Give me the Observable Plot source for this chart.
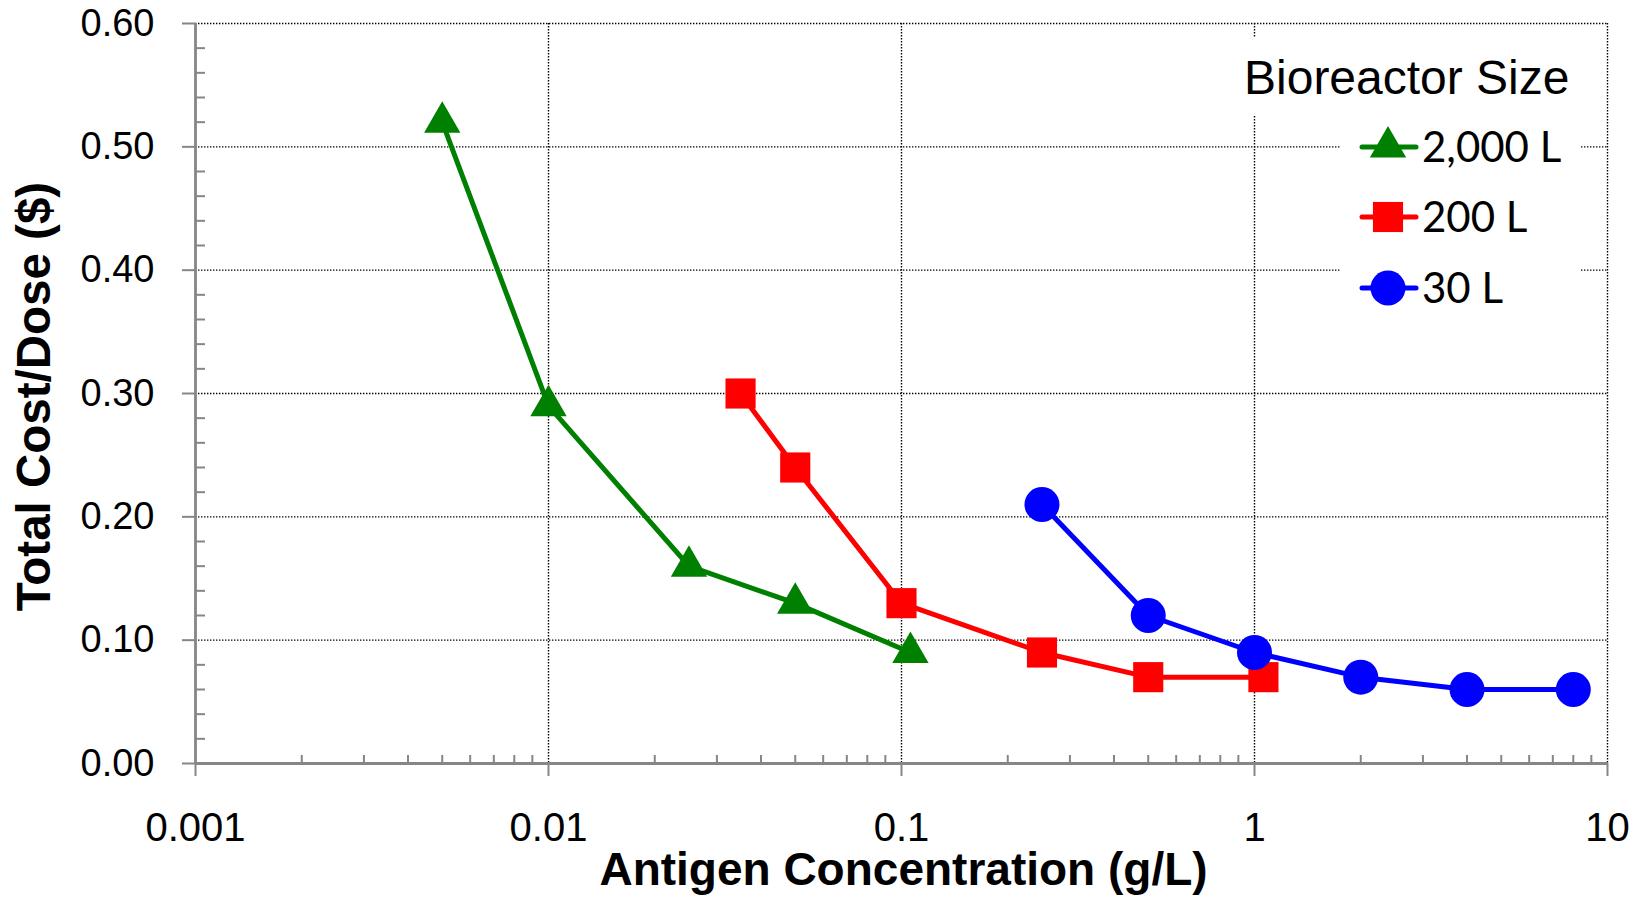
<!DOCTYPE html>
<html>
<head>
<meta charset="utf-8">
<script src="https://cdn.jsdelivr.net/npm/d3@7"></script>
<script src="https://cdn.jsdelivr.net/npm/@observablehq/plot@0.6"></script>
<style>
  html, body { margin: 0; padding: 0; background: #fff; }
  #wrap { position: relative; width: 1642px; height: 897px; overflow: hidden; background: #fff; }
  #wrap svg.legend { position: absolute; left: 0; top: 0; }
</style>
</head>
<body>
<div id="wrap"></div>
<script>
// ---- Data ----
const seriesNames = ["2,000 L", "200 L", "30 L"];
const seriesColors = ["#008000", "#ff0000", "#0000ff"];
const seriesSymbols = ["triangle", "square", "circle"];

const conc2000 = [0.005, 0.01, 0.025, 0.05, 0.106];
const cost2000 = [0.52, 0.29, 0.16, 0.13, 0.09];

const conc200 = [0.035, 0.05, 0.1, 0.25, 0.5, 1.06];
const cost200 = [0.30, 0.24, 0.13, 0.09, 0.07, 0.07];

const conc30 = [0.25, 0.5, 1, 2, 4, 8];
const cost30 = [0.21, 0.12, 0.09, 0.07, 0.06, 0.06];

const xTicks = [0.001, 0.01, 0.1, 1, 10];
const xTickLabels = ["0.001", "0.01", "0.1", "1", "10"];
const yTicks = [0, 0.1, 0.2, 0.3, 0.4, 0.5, 0.6];
const yTickLabels = ["0.00", "0.10", "0.20", "0.30", "0.40", "0.50", "0.60"];
const xMinorMultiples = [2, 3, 4, 5, 6, 7, 8, 9];
const yMinorTicks = [0.02, 0.04, 0.06, 0.08, 0.12, 0.14, 0.16, 0.18, 0.22, 0.24, 0.26, 0.28,
                     0.32, 0.34, 0.36, 0.38, 0.42, 0.44, 0.46, 0.48, 0.52, 0.54, 0.56, 0.58];

const xTitle = "Antigen Concentration (g/L)";
const yTitle = "Total Cost/Dose ($)";
const legendTitle = "Bioreactor Size";

// ---- Build table ----
const allConc = [conc2000, conc200, conc30];
const allCost = [cost2000, cost200, cost30];
const rows = [];
seriesNames.forEach((name, s) => {
  allConc[s].forEach((c, i) => rows.push({series: name, conc: c, cost: allCost[s][i]}));
});
const xMinorTicks = xTicks.slice(0, -1).flatMap(d => xMinorMultiples.map(m => d * m));

// ---- Layout ----
const W = 1642, H = 897;
const mL = 195, mR = 35, mT = 23, mB = 134;
const frameW = W - mL - mR, frameH = H - mT - mB;
const axisGray = "#868686";
const font = "'Liberation Sans', Arial, sans-serif";

const marks = [
  // dotted gridlines
  Plot.ruleY(yTicks.filter(v => v > 0), {y: d => d, stroke: "#000", strokeWidth: 1.4, strokeDasharray: "1.4,1.6"}),
  Plot.ruleX(xTicks.filter(v => v > 0.001), {x: d => d, stroke: "#000", strokeWidth: 1.4, strokeDasharray: "1.4,1.6"}),
  // minor ticks (inside)
  Plot.tickX(xMinorTicks, {x: d => d, insetTop: frameH - 8, stroke: axisGray, strokeWidth: 2}),
  Plot.tickY(yMinorTicks, {y: d => d, insetRight: frameW - 10, stroke: axisGray, strokeWidth: 2}),
  // axes
  Plot.axisY(yTicks, {
    anchor: "left", tickSize: 13, tickPadding: 28, fontSize: 38,
    stroke: axisGray, strokeWidth: 2, fill: "#000", label: null,
    tickFormat: d => yTickLabels[yTicks.indexOf(d)]
  }),
  Plot.axisX(xTicks, {
    anchor: "bottom", tickSize: 13, tickPadding: 36, fontSize: 40,
    stroke: axisGray, strokeWidth: 2, fill: "#000", label: null,
    tickFormat: d => xTickLabels[xTicks.indexOf(d)]
  }),
  Plot.ruleY([0], {y: d => d, stroke: axisGray, strokeWidth: 2.8}),
  Plot.ruleX([0.001], {x: d => d, stroke: axisGray, strokeWidth: 2.8}),
  // titles
  Plot.text([xTitle], {text: d => d, frameAnchor: "bottom", dx: 2, dy: 107, fontSize: 46, fontWeight: "bold", textAnchor: "middle", lineAnchor: "middle", fill: "#000"}),
  Plot.text([yTitle], {text: d => d, frameAnchor: "left", dx: -161, dy: 3, rotate: -90, fontSize: 47.5, fontWeight: "bold", textAnchor: "middle", lineAnchor: "middle", fill: "#000"})
];

seriesNames.forEach((name, s) => {
  const data = rows.filter(r => r.series === name);
  marks.push(Plot.line(data, {x: "conc", y: "cost", stroke: seriesColors[s], strokeWidth: 5, strokeLinejoin: "round"}));
});
const symR = {triangle: 13.5, square: 17, circle: 17.5};
seriesNames.forEach((name, s) => {
  const data = rows.filter(r => r.series === name);
  marks.push(Plot.dot(data, {x: "conc", y: "cost", symbol: () => seriesSymbols[s], r: symR[seriesSymbols[s]], fill: seriesColors[s], stroke: "none"}));
});

const chart = Plot.plot({
  width: W, height: H,
  marginLeft: mL, marginRight: mR, marginTop: mT, marginBottom: mB,
  style: {fontFamily: font, background: "#fff", color: "#000", overflow: "visible"},
  x: {type: "log", domain: [0.001, 10], axis: null},
  y: {type: "linear", domain: [0, 0.6], axis: null},
  symbol: {domain: ["triangle", "square", "circle"], range: ["triangle", "square", "circle"]},
  marks
});

const wrap = document.getElementById("wrap");
wrap.appendChild(chart);

// ---- Legend overlay ----
const lg = d3.select(wrap).append("svg")
  .attr("class", "legend").attr("width", W).attr("height", H);
lg.append("rect").attr("x", 1232).attr("y", 37).attr("width", 368).attr("height", 79).attr("fill", "#fff");
lg.append("rect").attr("x", 1340).attr("y", 116).attr("width", 240).attr("height", 194).attr("fill", "#fff");
lg.append("text").attr("x", 1244).attr("y", 94)
  .attr("font-family", font).attr("font-size", 48).attr("fill", "#000").text(legendTitle);
const rowY = [147, 217, 288];
const d3sym = {triangle: d3.symbolTriangle, square: d3.symbolSquare, circle: d3.symbolCircle};
seriesNames.forEach((name, s) => {
  const g = lg.append("g").attr("transform", `translate(0,${rowY[s]})`);
  g.append("line").attr("x1", 1362).attr("x2", 1416).attr("y1", 0).attr("y2", 0)
    .attr("stroke", seriesColors[s]).attr("stroke-width", 5).attr("stroke-linecap", "round");
  const r = symR[seriesSymbols[s]];
  g.append("path").attr("transform", "translate(1388,0)")
    .attr("d", d3.symbol(d3sym[seriesSymbols[s]], Math.PI * r * r)())
    .attr("fill", seriesColors[s]);
  g.append("text").attr("x", 1422).attr("y", 15)
    .attr("font-family", "Lato, 'Open Sans', sans-serif").attr("font-size", 42).attr("fill", "#000").text(name);
});
</script>
</body>
</html>
